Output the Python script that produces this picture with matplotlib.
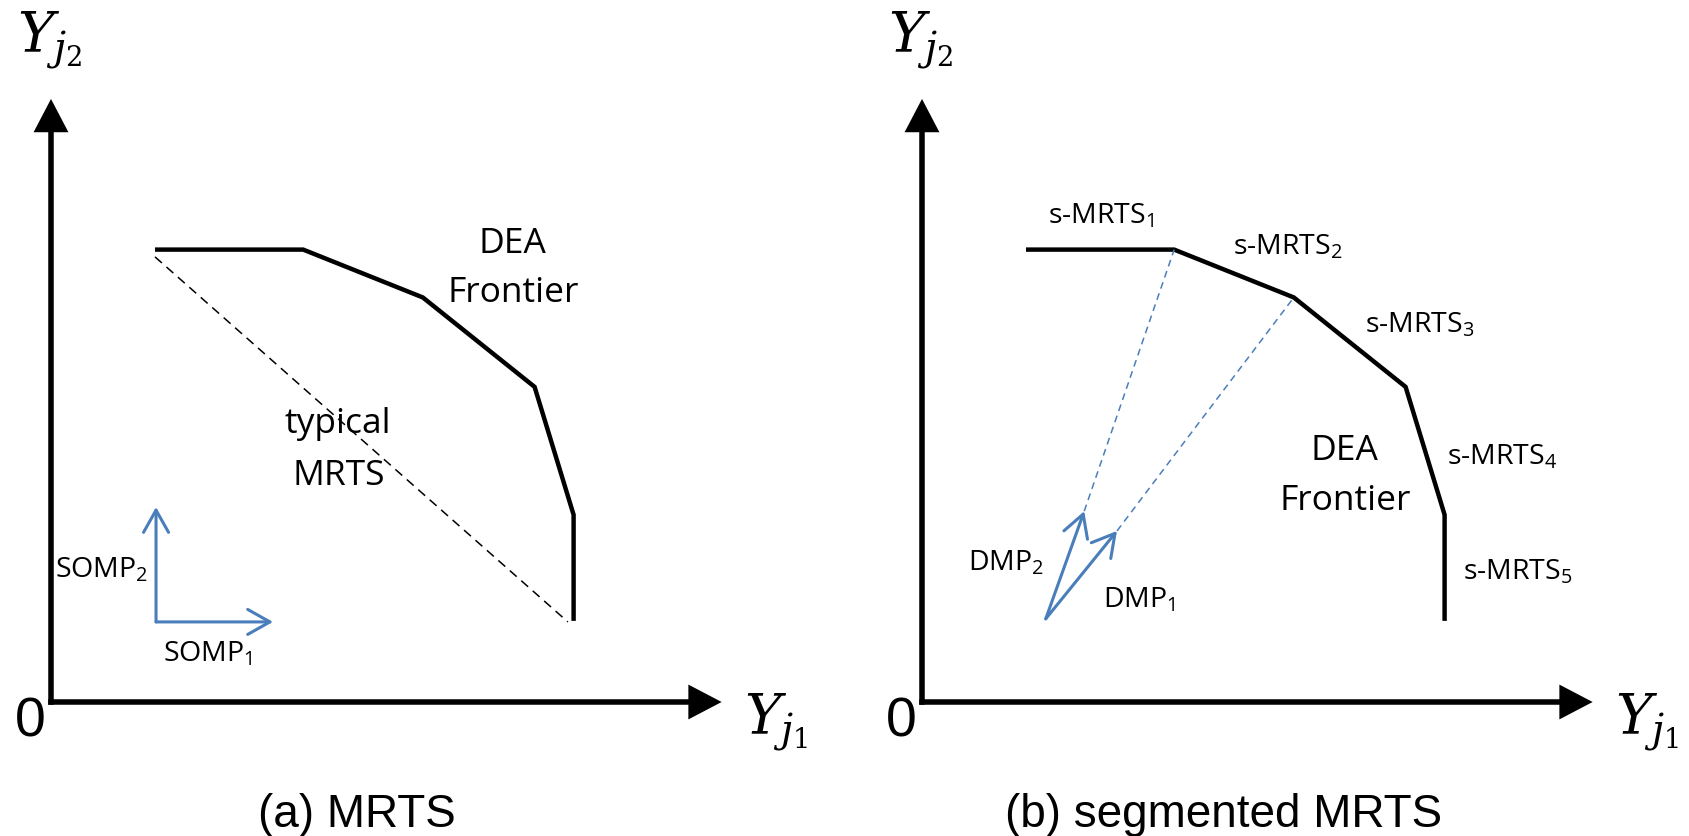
####################################### Imports #######################################
import matplotlib.pyplot as plt

####################################### Data #######################################
# Vertices de la frontera DEA (igual en los dos paneles)
frontierX = [20, 48.5, 71.5, 93, 100.5, 100.5]
frontierY = [87, 87, 77.8, 60.6, 36, 15.6]

# MRTS tipica (discontinua, panel a)
typicalX = [20, 99.4]
typicalY = [85.6, 15.4]

# Direcciones SOMP (panel a)
sompOrigin = (20.2, 15.4)
sompTips = [(42.7, 15.4), (20.2, 37.5)]
sompLabels = ["SOMP$_1$", "SOMP$_2$"]

# Direcciones DMP (panel b) y vertice de la frontera al que apuntan
dmpOrigin = (23.8, 16.0)
dmpTips = [(37.5, 32.9), (31.2, 36.7)]
dmpTargets = [2, 1]
dmpLabels = ["DMP$_1$", "DMP$_2$"]

segLabels = ["s-MRTS$_1$", "s-MRTS$_2$", "s-MRTS$_3$", "s-MRTS$_4$", "s-MRTS$_5$"]
captions = ["(a) MRTS", "(b) segmented MRTS"]

####################################### Layout #######################################
W, H = 1690, 836
PX = 5.2                      # pixeles por unidad
origins = [(51, 702), (922, 702)]
XLIM = (-9, 151)
YLIM = (-25, 134)
blue = "#4A7EBB"

segPos = [(24.2, 92.1), (59.8, 86.0), (85.2, 71.0), (101.0, 45.6), (104.0, 23.5)]
sompPos = [(21.5, 7.7), (0.8, 24.0)]
dmpPos = [(34.8, 18.1), (8.8, 25.2)]
deaPos = [(88.8, 86.3, 76.9), (81.3, 46.5, 36.9)]
captionX = [39.8, 16.0]

plt.rcParams['font.family'] = 'Open Sans'
plt.rcParams['mathtext.fontset'] = 'custom'
plt.rcParams['mathtext.rm'] = 'Open Sans'
plt.rcParams['mathtext.it'] = 'DejaVu Serif:italic'
plt.rcParams['mathtext.sf'] = 'DejaVu Serif'

fig = plt.figure(figsize=(W / 100, H / 100), dpi=100)

axes = []
for ox, oy in origins:
    left = ox + XLIM[0] * PX
    bottom = (H - oy) + YLIM[0] * PX
    ax = fig.add_axes([left / W, bottom / H, (XLIM[1] - XLIM[0]) * PX / W, (YLIM[1] - YLIM[0]) * PX / H])
    ax.set_xlim(XLIM)
    ax.set_ylim(YLIM)
    ax.axis('off')
    axes.append(ax)


def draw_axes(ax):
    ax.arrow(-0.53, 0, 129.5, 0, width=1.06, head_width=6.7, head_length=6.4,
             length_includes_head=True, fc='black', ec='none', clip_on=False)
    ax.arrow(0, -0.53, 0, 116.5, width=1.06, head_width=6.7, head_length=6.4,
             length_includes_head=True, fc='black', ec='none', clip_on=False)
    ax.text(-6.5, 133.1, r"$Y_{j_{\mathsf{2}}}$", fontsize=40, ha='left', va='top')
    ax.text(133.2, 1.9, r"$Y_{j_{\mathsf{1}}}$", fontsize=40, ha='left', va='top')
    ax.text(-3.9, -4.0, "0", fontsize=40, family='Liberation Sans', ha='center', va='center')
    ax.plot(frontierX, frontierY, color='black', lw=3.2, solid_joinstyle='miter', solid_capstyle='butt')


def blue_arrow(ax, start, end):
    ax.annotate("", xy=end, xytext=start,
                arrowprops=dict(arrowstyle='->,head_length=0.8,head_width=0.45', lw=2.2,
                                color=blue, mutation_scale=20, shrinkA=0, shrinkB=0))


# Panel (a)
ax = axes[0]
draw_axes(ax)
ax.plot(typicalX, typicalY, color='black', lw=1.1, dashes=(6, 4))
for tip, lab, pos in zip(sompTips, sompLabels, sompPos):
    blue_arrow(ax, sompOrigin, tip)
    ax.text(pos[0], pos[1], lab, fontsize=20.5, ha='left', va='baseline')
ax.text(55.2, 51.7, "typical", fontsize=25.5, ha='center', va='baseline')
ax.text(55.4, 41.7, "MRTS", fontsize=25.5, ha='center', va='baseline')

# Panel (b)
ax = axes[1]
draw_axes(ax)
for tip, tgt, lab, pos in zip(dmpTips, dmpTargets, dmpLabels, dmpPos):
    ax.plot([tip[0], frontierX[tgt]], [tip[1], frontierY[tgt]], color=blue, lw=1.1, dashes=(4.5, 3.2))
    blue_arrow(ax, dmpOrigin, tip)
    ax.text(pos[0], pos[1], lab, fontsize=20.5, ha='left', va='baseline')
for lab, pos in zip(segLabels, segPos):
    ax.text(pos[0], pos[1], lab, fontsize=20.5, ha='left', va='baseline')

for ax, (dx, dy1, dy2), cx, cap in zip(axes, deaPos, captionX, captions):
    ax.text(dx, dy1, "DEA", fontsize=25.5, ha='center', va='baseline')
    ax.text(dx, dy2, "Frontier", fontsize=25.5, ha='center', va='baseline')
    ax.text(cx, -24.0, cap, fontsize=33, family='Liberation Sans', ha='left', va='baseline')

plt.savefig("out.png", dpi=100)
